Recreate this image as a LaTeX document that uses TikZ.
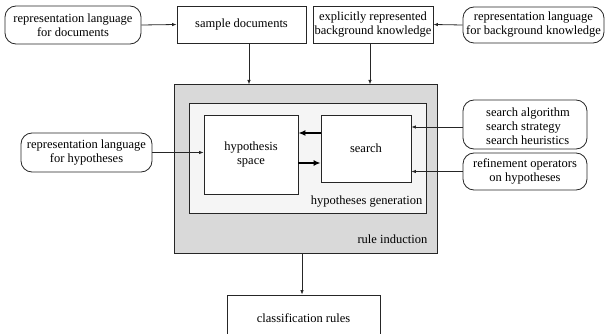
\documentclass[tikz,border=0pt]{standalone}
\usepackage{fontspec}
\newfontfamily\diagfont{Liberation Serif}
\usetikzlibrary{arrows.meta,calc}
\definecolor{framegray}{gray}{0.85}
\definecolor{innergray}{gray}{0.96}
\definecolor{linec}{gray}{0.15}
\tikzset{
  every node/.style={font=\diagfont\fontsize{12.5}{14}\selectfont, inner sep=0pt},
  plainbox/.style={draw=linec, line width=0.8pt, fill=white, align=center},
  roundbox/.style={draw=linec, line width=0.8pt, fill=white, rounded corners=11pt, align=center},
  arr/.style={draw=linec, line width=0.8pt, -{Latex[length=4.5pt,width=3.5pt]}},
  thickarr/.style={draw=black, line width=2pt, -{Latex[length=7pt,width=6pt]}},
}
\begin{document}
\begin{tikzpicture}[x=1pt,y=-1pt]
\useasboundingbox (0,0) rectangle (605,334);

% outer frames
\node[draw=linec, line width=1pt, fill=framegray, minimum width=263pt, minimum height=168pt] (ri) at (305.5,169) {};
\node[draw=linec, line width=1pt, fill=innergray, minimum width=237pt, minimum height=109pt] (hg) at (307.5,158.5) {};
\node[anchor=east] (hglabel) at ($(hg.south east)+(-4,-12)$) {hypotheses generation};
\node[anchor=east] (rilabel) at ($(ri.south east)+(-10,-14)$) {rule induction};

% top row
\node[roundbox, minimum width=136pt, minimum height=38pt] (rld) at (73,25) {representation language\\for documents};
\node[plainbox, minimum width=129pt, minimum height=37pt] (sd) at (241.5,24.5) {sample documents};
\node[plainbox, minimum width=120pt, minimum height=37pt] (ebk) at (373,24.5) {explicitly represented\\background knowledge};
\node[roundbox, minimum width=141pt, minimum height=36pt] (rlbk) at (533.5,25) {representation language\\for background knowledge};

% inner boxes
\node[plainbox, minimum width=94pt, minimum height=79pt] (hs) at (251,154.5) {hypothesis\\space};
\node[plainbox, minimum width=90pt, minimum height=67pt] (search) at (366,148.5) {search};

% side inputs
\node[roundbox, minimum width=131pt, minimum height=39pt] (rlh) at (86.5,152.5) {representation language\\for hypotheses};
\node[roundbox, minimum width=124pt, minimum height=49pt] (sa) at (525,124.5) {};
\node[align=left] (satext) at (528,126) {search algorithm\\search strategy\\search heuristics};
\node[roundbox, minimum width=124pt, minimum height=37pt] (ro) at (525,171.5) {refinement operators\\on hypotheses};

% output
\node[plainbox, minimum width=153pt, minimum height=46pt] (cr) at (303.5,318) {classification rules};

% connector end points
\coordinate (sdout) at ($(sd.south)+(7.5,0)$);
\coordinate (ebkout) at ($(ebk.south)+(-3,0)$);
\coordinate (saout) at ($(sa.west)+(0,2.5)$);
\coordinate (srout) at ($(search.west)+(0,-15.5)$);
\coordinate (hsout) at ($(hs.east)+(0,8.5)$);
\coordinate (crin) at ($(cr.north)+(-1.5,0)$);

% connectors
\draw[arr] (rld.east) -- (sd.west);
\draw[arr] (rlbk.west) -- (ebk.east);
\draw[arr] (sdout) -- (sdout |- ri.north);
\draw[arr] (ebkout) -- (ebkout |- ri.north);
\draw[arr] (rlh.east) -- (rlh.east -| hs.west);
\draw[arr] (saout) -- (saout -| search.east);
\draw[arr] (ro.west) -- (ro.west -| search.east);
\draw[thickarr] (srout) -- (srout -| hs.east);
\draw[thickarr] (hsout) -- (hsout -| search.west);
\draw[arr] (crin |- ri.south) -- (crin);
\end{tikzpicture}
\end{document}
